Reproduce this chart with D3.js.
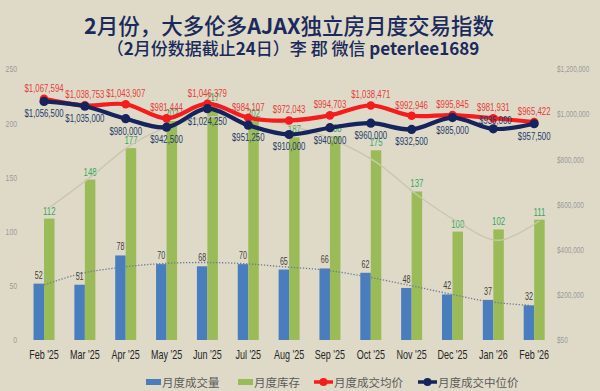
<!DOCTYPE html>
<html><head><meta charset="utf-8">
<script src="https://cdn.jsdelivr.net/npm/d3@7"></script>
<style>
html,body{margin:0;padding:0;background:#dfdac8;}
svg{display:block;}
</style></head>
<body><svg id="chart" width="600" height="391"></svg>
<script>
const months = ["Feb '25","Mar '25","Apr '25","May '25","Jun '25","Jul '25","Aug '25","Sep '25","Oct '25","Nov '25","Dec '25","Jan '26","Feb '26"];
const sales = [52,51,78,70,68,70,65,66,62,48,42,37,32];
const inventory = [112,148,177,202,217,202,187,188,175,137,100,102,111];
const avgPrice = [1067594,1038753,1043907,981444,1046379,984107,972043,994703,1038471,992946,995845,981931,965422];
const medianPrice = [1056500,1035000,980000,942500,1024250,951250,910000,940000,960000,932500,985000,935000,957500];
// trendlines (left-axis units)
const salesTrend = [49,61,67,70.5,71.5,70.5,67.5,64.5,58.5,51,43,35.5,32];
const inventoryTrend = [122,150,180,198,206,205,197,184,164,134,109,92,110];
const leftTicks = [0,50,100,150,200,250];
const rightTicks = [0,200000,400000,600000,800000,1000000,1200000];
const rightTickLabels = ["$50","$200,000","$400,000","$600,000","$800,000","$1,000,000","$1,200,000"];
const legendNames = ["月度成交量","月度库存","月度成交均价","月度成交中位价"];

const C = {blue:"#4a7dbd", green:"#9abb58", red:"#f41c1c", navy:"#15245c",
  redLabel:"#e83a3a", navyLabel:"#253a68", greenLabel:"#33a85a", grey:"#3f3f3f",
  axis:"#9a9a9a", title:"#1b2a5c"};
const lib = "'Liberation Sans',Arial,sans-serif";
const SX = 0.76;  // horizontal condensing for axis ticks
const SL = 0.68;  // horizontal condensing for data labels
const cjk = "'Noto Sans CJK SC','Noto Sans',sans-serif";

const svg = d3.select("#chart");
svg.append("rect").attr("width",600).attr("height",391).attr("fill","#dfdac8");

// title
const t1 = svg.append("text").attr("x",289).attr("y",34).attr("text-anchor","middle")
  .attr("font-family",cjk).attr("font-size",21.5).attr("fill",C.title).attr("font-weight",500);
[["2",700],["月份，大多伦多",500],["AJAX",700],["独立房月度交易指数",500]].forEach(([s,w])=>
  t1.append("tspan").attr("font-weight",w).text(s));
const t2 = svg.append("text").attr("x",293).attr("y",55).attr("text-anchor","middle")
  .attr("font-family",cjk).attr("font-size",17).attr("fill",C.title).attr("font-weight",500);
[["（",500],["2",700],["月份数据截止",500],["24",700],["日）李 郡 微信 ",500],["peterlee1689",700]].forEach(([s,w])=>
  t2.append("tspan").attr("font-weight",w).text(s));

// scales
const x = d3.scaleBand().domain(months).range([23.6,554.6]).padding(0);
const yL = d3.scaleLinear().domain([0,250]).range([340,69]);
const yR = d3.scaleLinear().domain([0,1200000]).range([340,69]);
const cx = m => x(m)+x.bandwidth()/2;
const barW = 10.5;

// axes
const gl = svg.append("g").attr("transform","translate(17,0)")
  .call(d3.axisLeft(yL).tickValues(leftTicks).tickSize(0).tickPadding(0));
gl.select(".domain").remove();
gl.selectAll("text").attr("font-family",lib).attr("font-size",9).attr("fill",C.axis).attr("transform",`scale(${SX},1)`);
const gr = svg.append("g").attr("transform","translate(557,0)")
  .call(d3.axisRight(yR).tickValues(rightTicks).tickSize(0).tickPadding(0)
    .tickFormat((d,i)=>rightTickLabels[i]));
gr.select(".domain").remove();
gr.selectAll("text").attr("font-family",lib).attr("font-size",8.5).attr("fill",C.axis).attr("transform",`scale(${SX},1)`);
const gx = svg.append("g").attr("transform","translate(0,348)")
  .call(d3.axisBottom(x).tickSize(0).tickPadding(0));
gx.select(".domain").remove();
gx.selectAll("text").attr("font-family",lib).attr("font-size",12.5).attr("fill","#262626")
  .attr("dy","0.9em").attr("transform","scale(0.72,1)");

function label(g, data, fx, fy, size, color, fmtFn){
  g.selectAll("text").data(data).join("text")
    .attr("transform",(d,i)=>`translate(${fx(d,i)},${fy(d,i)}) scale(${SL},1)`)
    .attr("text-anchor","middle").attr("font-family",lib).attr("font-size",size)
    .attr("fill",color).text(fmtFn);
}

// bars
svg.append("g").selectAll("rect").data(months).join("rect")
  .attr("x",(m)=>cx(m)-barW).attr("width",barW)
  .attr("y",(m,i)=>yL(sales[i])).attr("height",(m,i)=>yL(0)-yL(sales[i])).attr("fill",C.blue);
svg.append("g").selectAll("rect").data(months).join("rect")
  .attr("x",(m)=>cx(m)).attr("width",barW)
  .attr("y",(m,i)=>yL(inventory[i])).attr("height",(m,i)=>yL(0)-yL(inventory[i])).attr("fill",C.green);

// bar labels
label(svg.append("g"), sales, (d,i)=>cx(months[i])-barW/2, d=>yL(d)-5, 10.5, C.grey, d=>d);
label(svg.append("g"), inventory, (d,i)=>cx(months[i])+barW/2, d=>yL(d)-4, 11.5, C.greenLabel, d=>d);

// trendlines
svg.append("path").datum(inventoryTrend)
  .attr("d",d3.line().x((d,i)=>cx(months[i])+barW/2).y(d=>yL(d)).curve(d3.curveCatmullRom))
  .attr("fill","none").attr("stroke","#c9c7ad").attr("stroke-width",1.5);
svg.append("path").datum(salesTrend)
  .attr("d",d3.line().x((d,i)=>cx(months[i])-barW/2).y(d=>yL(d)).curve(d3.curveCatmullRom))
  .attr("fill","none").attr("stroke","#6a7b96").attr("stroke-width",1.3).attr("stroke-dasharray","1.3,1.7");

// price lines
const priceLine = d3.line().x((d,i)=>cx(months[i])).y(d=>yR(d)).curve(d3.curveCatmullRom);
svg.append("path").datum(avgPrice).attr("d",priceLine).attr("fill","none")
  .attr("stroke",C.red).attr("stroke-width",4.2);
svg.append("g").selectAll("circle").data(avgPrice).join("circle")
  .attr("cx",(d,i)=>cx(months[i])).attr("cy",d=>yR(d)).attr("r",4.3).attr("fill",C.red);

const fmt = d3.format("$,");
svg.append("path").datum(medianPrice).attr("d",priceLine).attr("fill","none")
  .attr("stroke",C.navy).attr("stroke-width",4.2);
svg.append("g").selectAll("circle").data(medianPrice).join("circle")
  .attr("cx",(d,i)=>cx(months[i])).attr("cy",d=>yR(d)).attr("r",4.6).attr("fill",C.navy);

// price labels (Jan '26 median label sits above its point in the original)
label(svg.append("g"), avgPrice, (d,i)=>cx(months[i]), d=>yR(d)-7, 11.5, C.redLabel, d=>fmt(d));
label(svg.append("g"), medianPrice, (d,i)=>cx(months[i])+(i===11?2:0),
  (d,i)=>i===11?yR(d)-5:yR(d)+16, 11.5, C.navyLabel, d=>fmt(d));

// legend
const lg = svg.append("g").attr("font-family",cjk).attr("font-size",11.5).attr("fill","#5a5a5a");
const lgX = [146,238,314,418];
lg.append("rect").attr("x",lgX[0]).attr("y",379).attr("width",15).attr("height",6).attr("fill",C.blue);
lg.append("rect").attr("x",lgX[1]).attr("y",379).attr("width",15).attr("height",6).attr("fill",C.green);
[[lgX[2],C.red],[lgX[3],C.navy]].forEach(([lx,c])=>{
  lg.append("line").attr("x1",lx).attr("x2",lx+19).attr("y1",382).attr("y2",382).attr("stroke",c).attr("stroke-width",3.5);
  lg.append("circle").attr("cx",lx+9.5).attr("cy",382).attr("r",4).attr("fill",c);
});
const txtX = [162,254,334,438];
legendNames.forEach((n,i)=>lg.append("text").attr("x",txtX[i]).attr("y",386.5).text(n));
</script></body></html>
